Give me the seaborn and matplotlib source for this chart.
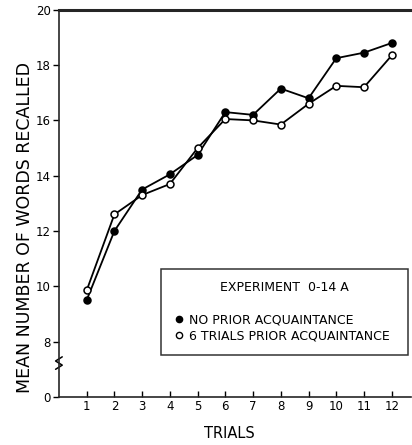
import numpy as np
import pandas as pd
import seaborn as sns
import matplotlib.pyplot as plt
from matplotlib.lines import Line2D

# Data
trials = list(range(1, 13))
no_prior = [9.5, 12.0, 13.5, 14.05, 14.75, 16.3, 16.2, 17.15, 16.8, 18.25, 18.45, 18.8]
six_prior = [9.85, 12.6, 13.3, 13.7, 15.0, 16.05, 16.0, 15.85, 16.6, 17.25, 17.2, 18.35]
series_names = ["NO PRIOR ACQUAINTANCE", "6 TRIALS PRIOR ACQUAINTANCE"]
y_ticks = [8, 10, 12, 14, 16, 18, 20]

df = pd.DataFrame({
    "trial": trials * 2,
    "mean": no_prior + six_prior,
    "group": [series_names[0]] * 12 + [series_names[1]] * 12,
})

sns.set_style("ticks")
plt.rcParams["font.family"] = ["DejaVu Sans"]
plt.rcParams["text.color"] = "black"
plt.rcParams["axes.labelcolor"] = "black"
plt.rcParams["xtick.color"] = "black"
plt.rcParams["ytick.color"] = "black"

fig = plt.figure(figsize=(4.12, 4.45), dpi=100)
ax = fig.add_axes([0.143, 0.108, 0.855, 0.87])

for name, face in zip(series_names, ["black", "white"]):
    sns.lineplot(data=df[df["group"] == name], x="trial", y="mean", ax=ax,
                 color="black", lw=1.3, marker="o", markersize=5,
                 markerfacecolor=face, markeredgecolor="black",
                 markeredgewidth=1.1, legend=False)

ax.set_xlim(0, 12.7)
ax.set_ylim(6, 20)
ax.set_xticks(trials)
ax.set_xticklabels([str(t) for t in trials])
ax.set_yticks([6] + y_ticks)
ax.set_yticklabels(["0"] + [str(t) for t in y_ticks])
ax.tick_params(axis="x", direction="in", length=4, width=1, labelsize=8.5, pad=2)
ax.tick_params(axis="y", direction="out", length=4, width=1, labelsize=8.5, pad=2)

ax.spines["right"].set_visible(False)
ax.spines["top"].set_linewidth(2.2)
ax.spines["left"].set_linewidth(1.2)
ax.spines["bottom"].set_linewidth(1.2)

# axis break mark
ax.plot([-0.12, 0.12, -0.12, 0.12], [7.0, 7.15, 7.3, 7.45], color="black",
        lw=1.1, clip_on=False, transform=ax.transData)

ax.set_xlabel("TRIALS", fontsize=10.5)
ax.set_ylabel("MEAN NUMBER OF WORDS RECALLED", fontsize=12.5)
ax.xaxis.set_label_coords(0.483, -0.075)
ax.yaxis.set_label_coords(-0.072, 0.437)

handles = [
    Line2D([], [], ls="none", marker="o", markersize=4.5, markerfacecolor="black",
           markeredgecolor="black"),
    Line2D([], [], ls="none", marker="o", markersize=4.5, markerfacecolor="white",
           markeredgecolor="black"),
]
leg = ax.legend(handles, series_names, title="EXPERIMENT  0-14 A",
                loc="lower left", bbox_to_anchor=(0.29, 0.108, 0.7, 0.225),
                mode="expand", fontsize=9, title_fontsize=9, borderaxespad=0,
                frameon=True, fancybox=False, handletextpad=0.4,
                handlelength=0.8, borderpad=1.0, labelspacing=0.25)
leg.get_frame().set_edgecolor("black")
leg.get_frame().set_linewidth(1.1)
leg._legend_box.sep = 14

fig.savefig("out.png", dpi=100)
